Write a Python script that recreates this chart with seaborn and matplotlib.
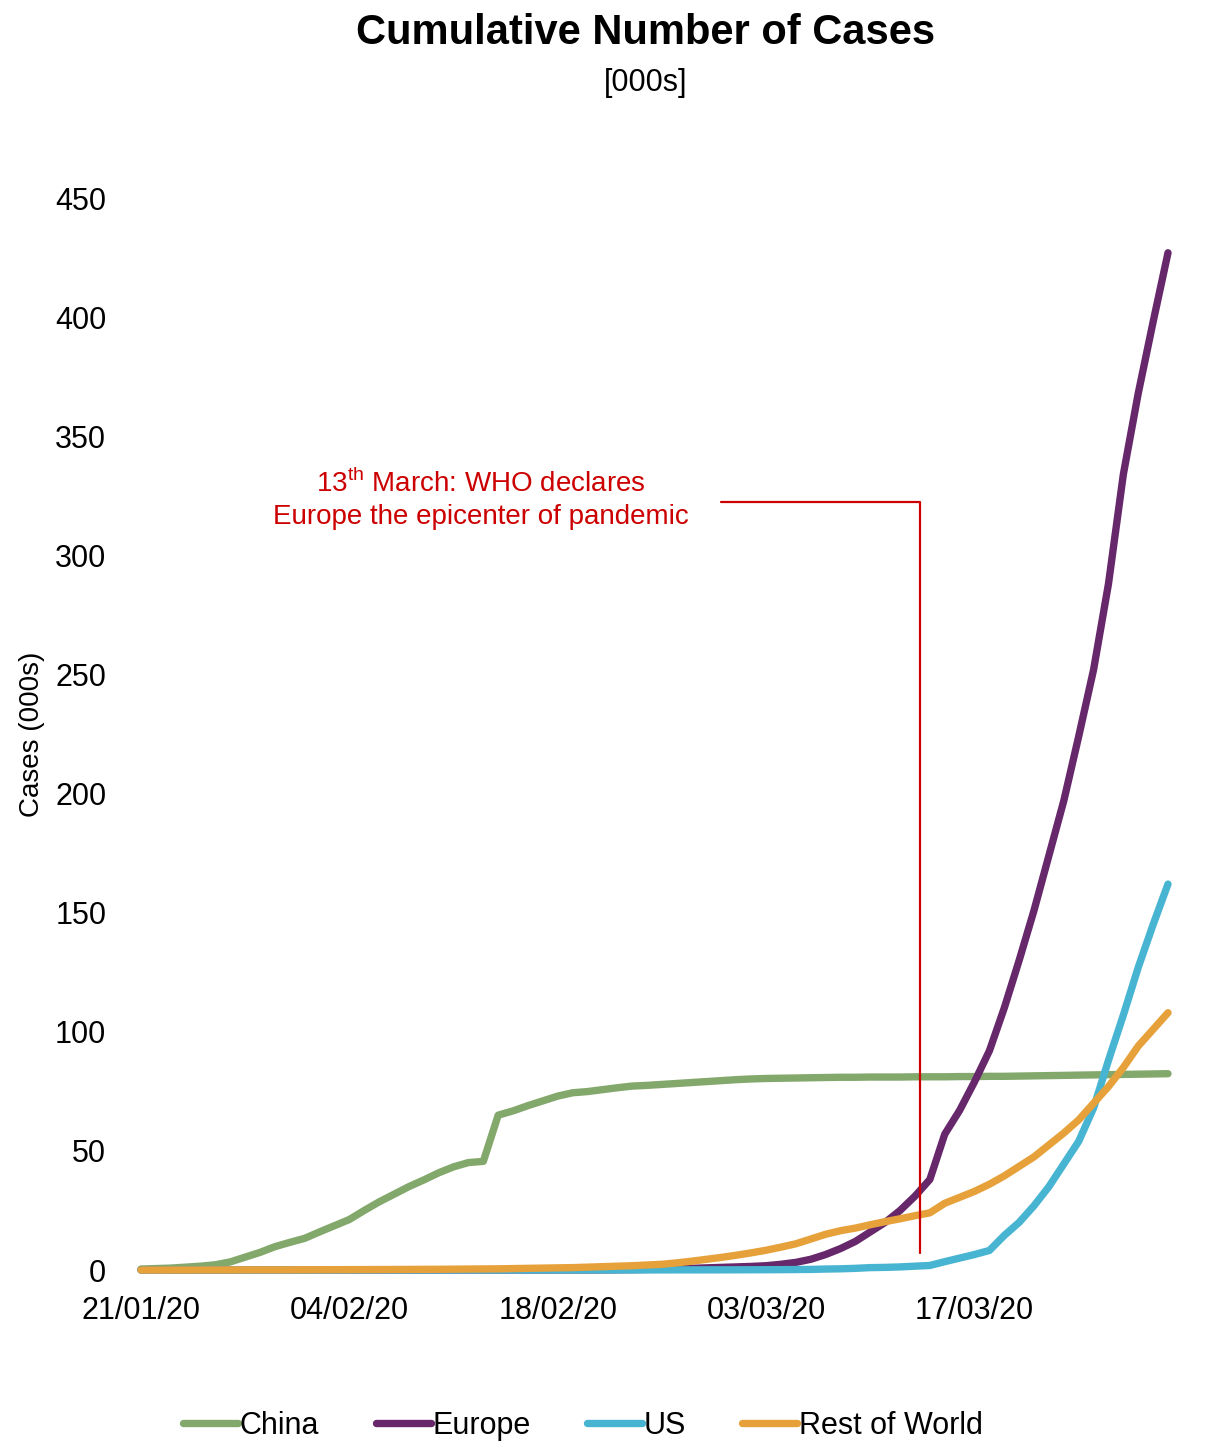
import numpy as np
import pandas as pd
import matplotlib
matplotlib.use("Agg")
import matplotlib.pyplot as plt
import matplotlib.dates as mdates
import seaborn as sns

# Daily cumulative cases (thousands), 21 Jan 2020 -> 30 Mar 2020
dates = pd.date_range("2020-01-21", "2020-03-30", freq="D")

china = [0.4, 0.6, 0.8, 1.2, 1.6, 2.2, 3.4, 5.4, 7.4, 9.8,
         11.6, 13.3, 16.0, 18.6, 21.2, 25.0, 28.6, 31.8, 35.0, 37.8,
         40.8, 43.3, 45.1, 45.6, 65.0, 66.8, 69.0, 71.0, 73.0, 74.4,
         74.9, 75.7, 76.5, 77.2, 77.5, 77.9, 78.3, 78.7, 79.1, 79.5,
         79.9, 80.2, 80.4, 80.5, 80.6, 80.7, 80.8, 80.9, 80.9, 81.0,
         81.0, 81.0, 81.1, 81.1, 81.1, 81.2, 81.2, 81.3, 81.3, 81.4,
         81.5, 81.6, 81.7, 81.8, 81.9, 82.0, 82.1, 82.2, 82.3, 82.4]

europe = [0.0, 0.0, 0.0, 0.0, 0.0, 0.0, 0.0, 0.0, 0.0, 0.0,
          0.0, 0.0, 0.01, 0.01, 0.01, 0.01, 0.01, 0.01, 0.01, 0.02,
          0.02, 0.02, 0.02, 0.02, 0.02, 0.02, 0.02, 0.02, 0.03, 0.03,
          0.03, 0.05, 0.1, 0.15, 0.25, 0.35, 0.5, 0.7, 0.9, 1.1,
          1.3, 1.5, 1.8, 2.4, 3.2, 4.5, 6.5, 9.0, 12.0, 16.0,
          20.0, 25.0, 31.0, 38.0, 57.0, 67.0, 79.0, 92.0, 110.0, 130.0,
          151.0, 174.0, 197.0, 224.0, 252.0, 288.0, 334.0, 368.0, 398.0, 427.0]

us = [0.0, 0.0, 0.0, 0.0, 0.0, 0.0, 0.0, 0.0, 0.0, 0.0,
      0.0, 0.0, 0.01, 0.01, 0.01, 0.01, 0.01, 0.01, 0.01, 0.01,
      0.01, 0.01, 0.01, 0.01, 0.01, 0.01, 0.01, 0.01, 0.01, 0.02,
      0.02, 0.02, 0.02, 0.03, 0.03, 0.04, 0.06, 0.06, 0.06, 0.07,
      0.08, 0.1, 0.12, 0.15, 0.2, 0.25, 0.4, 0.5, 0.7, 1.0,
      1.1, 1.3, 1.6, 1.9, 3.5, 5.0, 6.5, 8.2, 14.5, 20.0,
      27.0, 35.0, 44.5, 54.0, 68.0, 88.0, 107.0, 127.0, 145.0, 162.0]

rest_of_world = [0.0, 0.0, 0.01, 0.01, 0.02, 0.03, 0.04, 0.05, 0.06, 0.07,
                 0.08, 0.1, 0.12, 0.14, 0.16, 0.18, 0.2, 0.22, 0.25, 0.28,
                 0.3, 0.35, 0.4, 0.45, 0.5, 0.6, 0.7, 0.8, 0.9, 1.0,
                 1.2, 1.4, 1.6, 1.8, 2.1, 2.4, 3.0, 3.7, 4.5, 5.3,
                 6.2, 7.2, 8.3, 9.6, 11.0, 13.0, 15.0, 16.5, 17.6, 19.0,
                 20.3, 21.5, 22.8, 24.0, 28.0, 30.5, 33.0, 36.0, 39.5, 43.5,
                 47.5, 52.5, 57.5, 63.0, 70.0, 77.0, 85.0, 94.0, 101.0, 108.0]

regions = ["China", "Europe", "US", "Rest of World"]
colors = ["#83A86C", "#66286A", "#47B4D2", "#E7A13B"]

tick_dates = ["2020-01-21", "2020-02-04", "2020-02-18", "2020-03-03", "2020-03-17"]
y_ticks = [0, 50, 100, 150, 200, 250, 300, 350, 400, 450]

df = pd.concat([
    pd.DataFrame({"date": dates, "cases": vals, "region": name})
    for name, vals in zip(regions, [china, europe, us, rest_of_world])
], ignore_index=True)

sns.set_theme(style="white")
plt.rcParams["font.family"] = ["Liberation Sans", "DejaVu Sans"]
plt.rcParams["mathtext.fontset"] = "custom"
plt.rcParams["mathtext.rm"] = "Liberation Sans"
plt.rcParams["text.color"] = "black"
plt.rcParams["axes.labelcolor"] = "black"
plt.rcParams["xtick.color"] = "black"
plt.rcParams["ytick.color"] = "black"

fig = plt.figure(figsize=(12.16, 14.41), dpi=100)
ax = fig.add_axes([141 / 1216, 171 / 1441, (1168 - 141) / 1216, (1270 - 198) / 1441])

sns.lineplot(data=df, x="date", y="cases", hue="region", hue_order=regions,
             palette=colors, linewidth=5.3, ax=ax, legend=True)
for line in ax.get_lines():
    line.set_solid_capstyle("round")
    line.set_solid_joinstyle("round")
    line.set_clip_on(False)

ax.set_xlim(dates[0], dates[-1])
ax.set_ylim(0, 450)
ax.set_yticks(y_ticks)
ax.set_yticklabels([str(v) for v in y_ticks])
ax.set_xticks(pd.to_datetime(tick_dates))
ax.xaxis.set_major_formatter(mdates.DateFormatter("%d/%m/%y"))
ax.tick_params(axis="x", length=0, pad=19, labelsize=22, labelcolor="black")
ax.tick_params(axis="y", length=0, pad=25, labelsize=22, labelcolor="black")
for s in ax.spines.values():
    s.set_visible(False)
ax.set_xlabel("")
ax.set_ylabel("Cases (000s)", fontsize=20, color="black")
ax.yaxis.set_label_coords(-0.0935, 0.5)

# WHO declaration callout
red = "#CC0000"
who_day = pd.Timestamp("2020-03-13") + pd.Timedelta(hours=8)
start_day = pd.Timestamp("2020-02-29")
ax.plot([start_day, who_day, who_day], [322.5, 322.5, 7], color=red,
        linewidth=1.6, zorder=10, clip_on=False)
label_day = pd.Timestamp("2020-02-12") + pd.Timedelta(hours=20)
ax.text(label_day, 330, "13$^{\\mathrm{th}}$ March: WHO declares", color=red,
        fontsize=20, ha="center", va="center")
ax.text(label_day, 316, "Europe the epicenter of pandemic", color=red,
        fontsize=20, ha="center", va="center")

# Titles
fig.text(646 / 1216, 1 - 33 / 1441, "Cumulative Number of Cases", fontsize=30,
         fontweight="bold", ha="center", va="center", color="black")
fig.text(646 / 1216, 1 - 83 / 1441, "[000s]", fontsize=22, ha="center", va="center",
         color="black")

handles, labels = ax.get_legend_handles_labels()
for h in handles:
    h.set_linewidth(5.3)
    h.set_solid_capstyle("round")
leg = ax.legend(handles, labels, loc="center", bbox_to_anchor=(583 / 1216, 1 - 1426 / 1441),
                bbox_transform=fig.transFigure, ncol=4, frameon=False, fontsize=22,
                handlelength=1.8, handletextpad=0.05, columnspacing=1.85)
for t in leg.get_texts():
    t.set_color("black")

fig.savefig("out.png", dpi=100, facecolor="white")
